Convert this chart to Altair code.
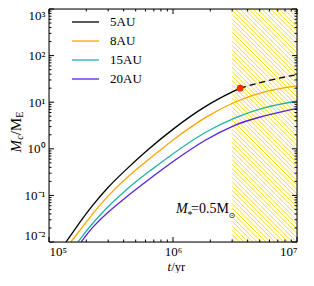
import altair as alt
import numpy as np
import pandas as pd

# ---------------- data ----------------
SERIES = ["5AU", "8AU", "15AU", "20AU"]
COLORS = ["#000000", "#ffa500", "#20b2aa", "#5522dd"]

T_5AU = [1.37e5, 1.73e5, 2.2e5, 2.98e5, 4.04e5, 6.18e5, 1.0e6, 1.84e6, 3.18e6, 3.48e6, 5.8e6, 1.0e7]
M_5AU = [0.01, 0.0242, 0.058, 0.15, 0.33, 0.935, 2.7, 8.6, 18.0, 20.0, 29.5, 39.0]

T_8AU = [1.5e5, 2.2e5, 2.98e5, 4.04e5, 5.14e5, 6.18e5, 1.0e6, 1.84e6, 3.18e6, 5.82e6, 1.0e7]
M_8AU = [0.01, 0.038, 0.098, 0.214, 0.372, 0.556, 1.58, 4.97, 10.6, 18.2, 22.4]

T_15AU = [1.71e5, 2.2e5, 2.98e5, 4.04e5, 5.14e5, 6.18e5, 1.0e6, 1.84e6, 3.18e6, 5.48e6, 1.0e7]
M_15AU = [0.01, 0.024, 0.0575, 0.12, 0.209, 0.302, 0.794, 2.4, 4.73, 7.94, 10.6]

T_20AU = [1.82e5, 2.2e5, 2.98e5, 4.04e5, 5.14e5, 6.97e5, 1.0e6, 1.84e6, 3.18e6, 4.57e6, 1.0e7]
M_20AU = [0.01, 0.02, 0.0437, 0.0851, 0.141, 0.262, 0.537, 1.63, 3.33, 4.57, 7.38]

T_SPLIT = 3.48e6      # red dot: end of the solid 5AU line
HATCH_START = 3.0e6   # left edge of the hatched band

X_DOMAIN = [1e5, 1e7]
Y_DOMAIN = [1e-2, 1e3]
X_MAJOR = [1e5, 1e6, 1e7]
X_TICK_LABELS = ["10⁵", "10⁶", "10⁷"]
X_MINOR = [k * 10.0 ** n for n in (5, 6) for k in range(2, 10)]
Y_MAJOR = [1e-2, 1e-1, 1e0, 1e1, 1e2, 1e3]
Y_TICK_LABELS = ["10⁻²", "10⁻¹", "10⁰", "10¹", "10²", "10³"]
Y_MINOR = [k * 10.0 ** n for n in range(-2, 3) for k in range(2, 10)]

# ---------------- layout ----------------
W, H = 248, 233
FONT = "Liberation Serif"

xscale = alt.Scale(type="log", domain=X_DOMAIN, nice=False)
yscale = alt.Scale(type="log", domain=Y_DOMAIN, nice=False)


def label_expr(values, labels):
    expr = "'" + labels[-1] + "'"
    for v, lab in reversed(list(zip(values[:-1], labels[:-1]))):
        expr = f"datum.value < {v * 3.0} ? '{lab}' : ({expr})"
    return expr


xaxis = alt.Axis(values=X_MAJOR, labelExpr=label_expr(X_MAJOR, X_TICK_LABELS), ticks=False,
                 domain=False, grid=False, title=None, labelFont=FONT, labelFontSize=13,
                 labelPadding=3, labelColor="black")
yaxis = alt.Axis(values=Y_MAJOR, labelExpr=label_expr(Y_MAJOR, Y_TICK_LABELS), ticks=False,
                 domain=False, grid=False, title=None, labelFont=FONT, labelFontSize=13,
                 labelPadding=4, labelColor="black", labelFlush=True, labelFlushOffset=0)


def X(field):
    return alt.X(field, scale=xscale, axis=xaxis)


def Y(field):
    return alt.Y(field, scale=yscale, axis=yaxis)


# ---------------- curves ----------------
all_t = [T_5AU, T_8AU, T_15AU, T_20AU]
all_m = [M_5AU, M_8AU, M_15AU, M_20AU]
rows = []
for name, ts, ms in zip(SERIES, all_t, all_m):
    for t, m in zip(ts, ms):
        if name == "5AU" and t > T_SPLIT:
            continue
        rows.append({"series": name, "t": t, "M": m})
curves_df = pd.DataFrame(rows)
dashed_df = pd.DataFrame({"t": [t for t in T_5AU if t >= T_SPLIT],
                          "M": [m for t, m in zip(T_5AU, M_5AU) if t >= T_SPLIT]})
dot_df = pd.DataFrame({"t": [T_SPLIT], "M": [M_5AU[T_5AU.index(T_SPLIT)]]})

# ---------------- hatch lines (45 degree, down to the right) ----------------
dec_x = W / np.log10(X_DOMAIN[1] / X_DOMAIN[0])
dec_y = H / np.log10(Y_DOMAIN[1] / Y_DOMAIN[0])
u0 = np.log10(HATCH_START / X_DOMAIN[0]) * dec_x
hrows = []
for k in np.arange(-W, H - u0, 4.4):
    us, ue = max(u0, -k), min(W, H - k)
    if ue - us > 0.2:
        hrows.append({
            "t1": X_DOMAIN[0] * 10 ** (us / dec_x), "t2": X_DOMAIN[0] * 10 ** (ue / dec_x),
            "m1": Y_DOMAIN[1] * 10 ** (-(us + k) / dec_y), "m2": Y_DOMAIN[1] * 10 ** (-(ue + k) / dec_y),
        })
hatch_df = pd.DataFrame(hrows)

hatch = alt.Chart(hatch_df).mark_rule(color="#ffd900", strokeWidth=0.9).encode(
    x=X("t1:Q"), x2="t2:Q", y=Y("m1:Q"), y2="m2:Q",
)

lines = alt.Chart(curves_df).mark_line(strokeWidth=1.3, interpolate="basis", clip=True).encode(
    x=X("t:Q"), y=Y("M:Q"),
    color=alt.Color("series:N", scale=alt.Scale(domain=SERIES, range=COLORS), legend=None),
    detail="series:N",
)

dash_bg = alt.Chart(dashed_df).mark_line(color="#dddddd", strokeWidth=1.3, interpolate="basis").encode(
    x=X("t:Q"), y=Y("M:Q"))
dash = alt.Chart(dashed_df).mark_line(color="black", strokeWidth=1.3, strokeDash=[6, 4],
                                      interpolate="basis").encode(x=X("t:Q"), y=Y("M:Q"))
dot = alt.Chart(dot_df).mark_point(filled=True, color="#ff2a00", opacity=1, size=45).encode(
    x=X("t:Q"), y=Y("M:Q"))

# ---------------- inward ticks on all four sides ----------------
tick_layers = []
for vals, length in ((X_MAJOR, 5), (X_MINOR, 2.5)):
    df = pd.DataFrame({"v": vals})
    for y0, y1 in ((H, H - length), (0, length)):
        tick_layers.append(alt.Chart(df).mark_rule(color="black", strokeWidth=1).encode(
            x=X("v:Q"), y=alt.value(y0), y2=alt.value(y1)))
for vals, length in ((Y_MAJOR, 5), (Y_MINOR, 2.5)):
    df = pd.DataFrame({"v": vals})
    for x0, x1 in ((0, length), (W, W - length)):
        tick_layers.append(alt.Chart(df).mark_rule(color="black", strokeWidth=1).encode(
            y=Y("v:Q"), x=alt.value(x0), x2=alt.value(x1)))

one = pd.DataFrame({"a": [0]})
frame = alt.Chart(one).mark_rect(fillOpacity=0, stroke="black", strokeWidth=1).encode(
    x=alt.value(0), x2=alt.value(W), y=alt.value(0), y2=alt.value(H))

# ---------------- legend ----------------
legend_layers = []
for i, (name, col) in enumerate(zip(SERIES, COLORS)):
    yy = 13 + 19 * i
    legend_layers.append(alt.Chart(one).mark_rule(color=col, strokeWidth=1.3).encode(
        x=alt.value(23), x2=alt.value(50), y=alt.value(yy)))
    legend_layers.append(alt.Chart(one).mark_text(text=name, font=FONT, fontSize=13, align="left",
                                                  baseline="middle", color="black").encode(
        x=alt.value(61), y=alt.value(yy)))


def txt(s, x, y, size=14, style="normal", font=FONT, angle=0, baseline="alphabetic", align="left"):
    kw = dict(text=s, font=font, fontSize=size, fontStyle=style, align=align, baseline=baseline,
              color="black")
    if angle:
        kw["angle"] = angle
    return alt.Chart(one).mark_text(**kw).encode(x=alt.value(x), y=alt.value(y))


annot = [
    txt("M", 127, 204, 14, "italic"),
    txt("*", 138.5, 209, 10),
    txt("=0.5M", 142, 204, 14),
    txt("⊙", 179.5, 207, 8, font="DejaVu Sans", baseline="middle"),
]
xtitle = [
    txt("t", 118.5, H + 28.5, 12.5, "italic"),
    txt("/yr", 122.3, H + 28.5, 12.5),
]
ytitle = [
    txt("M", -33, 143.5, 15, "italic", angle=270, baseline="middle"),
    txt("c", -29, 130.8, 10, "italic", angle=270, baseline="middle"),
    txt("/M", -33, 126.3, 15, angle=270, baseline="middle"),
    txt("E", -29, 108.8, 10, angle=270, baseline="middle"),
]

chart = alt.layer(
    hatch, lines, dash_bg, dash, dot, *tick_layers, frame, *legend_layers, *annot, *xtitle, *ytitle
).properties(
    width=W, height=H,
    padding={"left": 41, "top": 1, "right": 9, "bottom": 31},
    autosize=alt.AutoSizeParams(type="none"),
).configure_view(stroke=None).configure(font=FONT)

chart.save("out.html", embed_options={"renderer": "svg", "actions": False})
